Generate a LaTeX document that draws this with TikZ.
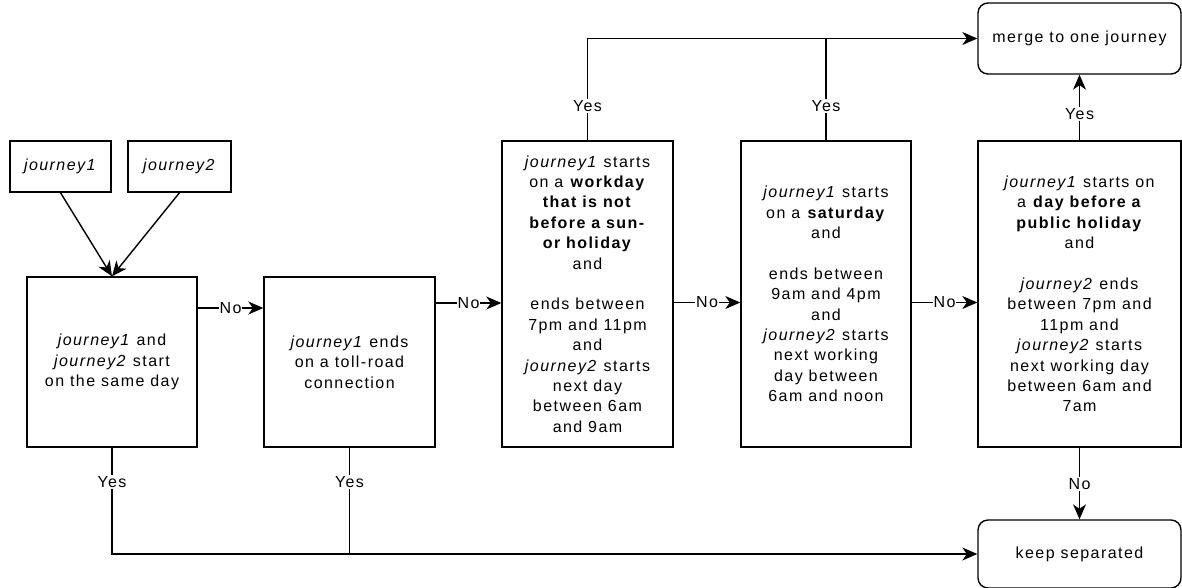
\documentclass[tikz,border=0pt]{standalone}
\usepackage{fontspec}
\newfontfamily\df[LetterSpace=9]{Liberation Sans}
\usetikzlibrary{arrows.meta}
\begin{document}
\begin{tikzpicture}[x=1pt,y=-1pt,
  txt/.style={font=\df\fontsize{16}{20.4}\selectfont},
  box/.style={draw, line width=1.4pt, inner sep=0pt, align=center, txt},
  rbox/.style={box, rounded corners=10pt},
  lab/.style={fill=white, inner sep=1pt, txt},
  ln/.style={line width=1.4pt},
  arr/.style={ln, -{Stealth[length=15pt,width=13pt,inset=4.5pt]}}]
\useasboundingbox (0,0) rectangle (1182,587);
\node[box, minimum width=101pt, minimum height=51pt] (j1) at (60.5,166.5) {\textit{journey1}};
\node[box, minimum width=103pt, minimum height=51pt] (j2) at (179.5,166.5) {\textit{journey2}};
\node[box, minimum width=170pt, minimum height=170pt] (b1) at (112,362)
  {\textit{journey1} and\\\textit{journey2} start\\on the same day};
\node[box, minimum width=171pt, minimum height=170pt] (b2) at (349.5,362)
  {\textit{journey1} ends\\on a toll-road\\connection};
\node[box, minimum width=171pt, minimum height=306pt] (b3) at (587.5,294)
  {\textit{journey1} starts\\on a \textbf{workday}\\\textbf{that is not}\\\textbf{before a sun-}\\\textbf{or holiday}\\and\\\mbox{}\\ends between\\7pm and 11pm\\and\\\textit{journey2} starts\\next day\\between 6am\\and 9am};
\node[box, minimum width=170pt, minimum height=306pt] (b4) at (826,294)
  {\textit{journey1} starts\\on a \textbf{saturday}\\and\\\mbox{}\\ends between\\9am and 4pm\\and\\\textit{journey2} starts\\next working\\day between\\6am and noon};
\node[box, minimum width=203pt, minimum height=306pt] (b5) at (1079.5,294)
  {\textit{journey1} starts on\\a \textbf{day before a}\\\textbf{public holiday}\\and\\\mbox{}\\\textit{journey2} ends\\between 7pm and\\11pm and\\\textit{journey2} starts\\next working day\\between 6am and\\7am};
\node[rbox, minimum width=203pt, minimum height=71pt] (merge) at (1079.5,38.5) {merge to one journey};
\node[rbox, minimum width=203pt, minimum height=68pt] (keep) at (1079.5,554) {keep separated};

\draw[arr] (j1.south) -- (b1.north);
\draw[arr] (j2.south) -- (b1.north);
\draw[arr] (b1.east |- 0,308) -- (b2.west |- 0,308);
\draw[arr] (b2.east |- 0,303) -- (b3.west |- 0,303);
\draw[arr] (b3.east |- 0,302.5) -- (b4.west |- 0,302.5);
\draw[arr] (b4.east |- 0,302.5) -- (b5.west |- 0,302.5);
\draw[arr] (b3.north) |- (merge.west);
\draw[ln] (b4.north) -- (b4.north |- merge.west);
\draw[arr] (b5.north) -- (merge.south);
\draw[arr] (b5.south) -- (keep.north);
\draw[arr] (b1.south) |- (keep.west);
\draw[ln] (b2.south) -- (b2.south |- keep.west);

\node[lab] at (230.5,308) {No};
\node[lab] at (468.5,303) {No};
\node[lab] at (707,302.5) {No};
\node[lab] at (944.5,302.5) {No};
\node[lab] at (b3.north |- 0,106) {Yes};
\node[lab] at (b4.north |- 0,106) {Yes};
\node[lab] at (b5.north |- 0,114) {Yes};
\node[lab] at (b5.south |- 0,484) {No};
\node[lab] at (b1.south |- 0,482) {Yes};
\node[lab] at (b2.south |- 0,482) {Yes};
\end{tikzpicture}
\end{document}
